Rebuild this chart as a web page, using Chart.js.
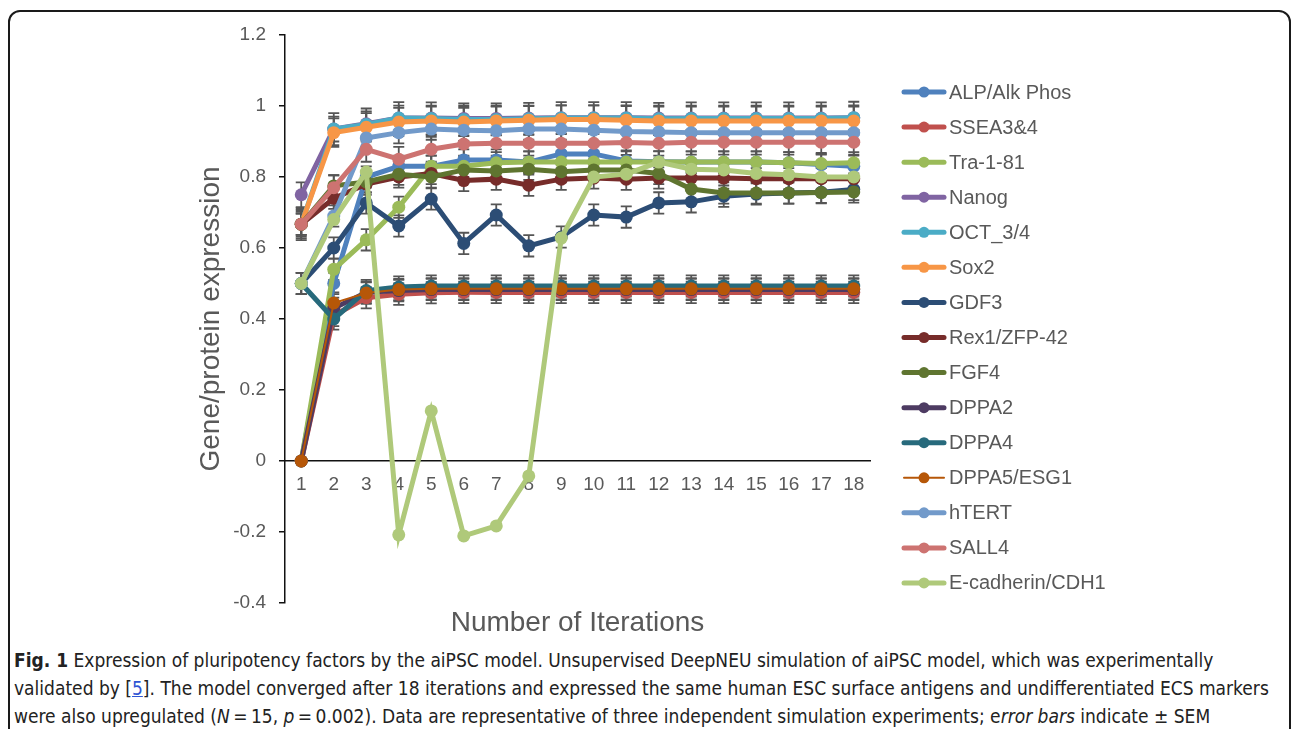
<!DOCTYPE html>
<html>
<head>
<meta charset="utf-8">
<title>Expression of pluripotency factors</title>
<script src="https://cdn.jsdelivr.net/npm/chart.js@4.4.1/dist/chart.umd.min.js"></script>
<style>
  html, body { margin: 0; padding: 0; background: #fff; }
  body { width: 1292px; height: 729px; position: relative; overflow: hidden; }
  #box {
    position: absolute; left: 8px; top: 10px; width: 1279px; height: 760px;
    border: 2px solid #1a1a1a; border-radius: 12px;
  }
  #chart { position: absolute; left: 0; top: 0; }
  #caption {
    position: absolute; left: 14px; top: 646px; width: 1270px;
    font-family: "Liberation Sans Narrow", "DejaVu Sans Condensed", sans-serif;
    font-size: 19px; line-height: 28px; color: #222; white-space: nowrap;
  }
  #caption a { color: #2f55d4; text-decoration: underline; }
</style>
</head>
<body>
<div id="box"></div>
<canvas id="chart" width="1292" height="642"></canvas>
<div id="caption">
  <div><b>Fig. 1</b> Expression of pluripotency factors by the aiPSC model. Unsupervised DeepNEU simulation of aiPSC model, which was experimentally</div>
  <div>validated by [<a>5</a>]. The model converged after 18 iterations and expressed the same human ESC surface antigens and undifferentiated ECS markers</div>
  <div>were also upregulated (<i>N</i>&#8201;=&#8201;15, <i>p</i>&#8201;=&#8201;0.002). Data are representative of three independent simulation experiments; e<i>rror bars</i> indicate ± SEM</div>
</div>
<script>
// iterations on the x axis
const iterations = ["1","2","3","4","5","6","7","8","9","10","11","12","13","14","15","16","17","18"];

// one array per marker
const alp     = [0, 0.50, 0.80, 0.83, 0.83, 0.848, 0.848, 0.842, 0.865, 0.865, 0.845, 0.843, 0.842, 0.842, 0.842, 0.84, 0.835, 0.83];
const ssea    = [0, 0.41, 0.46, 0.47, 0.474, 0.475, 0.475, 0.475, 0.475, 0.475, 0.475, 0.475, 0.475, 0.475, 0.475, 0.475, 0.475, 0.475];
const tra181  = [0, 0.54, 0.623, 0.715, 0.83, 0.83, 0.84, 0.842, 0.842, 0.842, 0.842, 0.842, 0.842, 0.842, 0.842, 0.84, 0.838, 0.84];
const nanog   = [0.75, 0.935, 0.95, 0.966, 0.966, 0.965, 0.965, 0.966, 0.967, 0.967, 0.967, 0.966, 0.966, 0.966, 0.966, 0.966, 0.966, 0.967];
const oct34   = [0.667, 0.935, 0.948, 0.966, 0.965, 0.962, 0.962, 0.964, 0.966, 0.966, 0.966, 0.964, 0.965, 0.965, 0.965, 0.965, 0.965, 0.967];
const sox2    = [0.667, 0.925, 0.94, 0.955, 0.958, 0.955, 0.958, 0.96, 0.962, 0.962, 0.96, 0.958, 0.958, 0.958, 0.958, 0.958, 0.958, 0.958];
const gdf3    = [0.5, 0.60, 0.727, 0.662, 0.738, 0.613, 0.693, 0.606, 0.631, 0.693, 0.687, 0.727, 0.73, 0.746, 0.752, 0.755, 0.757, 0.765];
const rex1    = [0.667, 0.74, 0.78, 0.80, 0.81, 0.79, 0.794, 0.777, 0.794, 0.797, 0.794, 0.797, 0.797, 0.797, 0.795, 0.795, 0.795, 0.795];
const fgf4    = [0.667, 0.775, 0.786, 0.808, 0.80, 0.82, 0.817, 0.822, 0.815, 0.82, 0.82, 0.81, 0.766, 0.755, 0.755, 0.755, 0.756, 0.758];
const dppa2   = [0, 0.43, 0.475, 0.48, 0.483, 0.483, 0.483, 0.483, 0.483, 0.483, 0.483, 0.483, 0.483, 0.483, 0.483, 0.483, 0.483, 0.483];
const dppa4   = [0.5, 0.40, 0.48, 0.49, 0.493, 0.493, 0.493, 0.493, 0.493, 0.493, 0.493, 0.493, 0.493, 0.493, 0.493, 0.493, 0.493, 0.493];
const dppa5   = [0, 0.445, 0.473, 0.483, 0.485, 0.485, 0.485, 0.485, 0.485, 0.485, 0.485, 0.485, 0.485, 0.485, 0.485, 0.485, 0.485, 0.485];
const htert   = [0.5, 0.69, 0.91, 0.925, 0.935, 0.932, 0.93, 0.935, 0.935, 0.932, 0.928, 0.927, 0.925, 0.925, 0.925, 0.925, 0.925, 0.925];
const sall4   = [0.667, 0.77, 0.878, 0.85, 0.878, 0.893, 0.895, 0.895, 0.895, 0.895, 0.897, 0.895, 0.898, 0.898, 0.898, 0.898, 0.898, 0.898];
const ecad    = [0.5, 0.68, 0.814, -0.208, 0.141, -0.211, -0.183, -0.042, 0.628, 0.80, 0.808, 0.842, 0.822, 0.82, 0.81, 0.806, 0.80, 0.80];

const seriesNames = ["ALP/Alk Phos", "SSEA3&4", "Tra-1-81", "Nanog", "OCT_3/4", "Sox2", "GDF3", "Rex1/ZFP-42",
  "FGF4", "DPPA2", "DPPA4", "DPPA5/ESG1", "hTERT", "SALL4", "E-cadherin/CDH1"];
const seriesValues = [alp, ssea, tra181, nanog, oct34, sox2, gdf3, rex1, fgf4, dppa2, dppa4, dppa5, htert, sall4, ecad];
// approximate SEM per marker (error bar half length)
const seriesSem = [0.03, 0.03, 0.03, 0.035, 0.045, 0.04, 0.03, 0.03, 0.03, 0.03, 0.03, 0.03, 0.03, 0.035, 0];
const seriesColors = ["#4f81bd", "#c0504d", "#9bbb59", "#8064a2", "#4bacc6", "#f79646", "#2c4d75", "#772c2a",
  "#5f7530", "#4d3b62", "#276a7c", "#b65708", "#729aca", "#cd7371", "#afc97a"];

const datasets = seriesNames.map((name, i) => ({
    label: name,
    data: seriesValues[i],
    sem: seriesSem[i],
    borderColor: seriesColors[i],
    backgroundColor: seriesColors[i],
    borderWidth: i === 11 ? 2 : 5,
    pointRadius: 6.5,
    pointHoverRadius: 6.5,
    pointBorderWidth: 0,
    tension: 0,
    order: seriesNames.length - i   // later series on top, like the original
}));

// error bars (drawn under the lines)
const errorBars = {
    id: 'errorBars',
    beforeDatasetsDraw(chart) {
        const ctx = chart.ctx;
        const y = chart.scales.y;
        ctx.save();
        ctx.strokeStyle = '#555';
        ctx.lineWidth = 1.8;
        chart.data.datasets.forEach((ds, i) => {
            if (!ds.sem) return;
            chart.getDatasetMeta(i).data.forEach((pt, j) => {
                const v = ds.data[j];
                if (v === 0) return;
                const top = y.getPixelForValue(v + ds.sem);
                const bot = y.getPixelForValue(v - ds.sem);
                ctx.beginPath();
                ctx.moveTo(pt.x, top); ctx.lineTo(pt.x, bot);
                ctx.moveTo(pt.x - 5.5, top); ctx.lineTo(pt.x + 5.5, top);
                ctx.moveTo(pt.x - 5.5, bot); ctx.lineTo(pt.x + 5.5, bot);
                ctx.stroke();
            });
        });
        ctx.restore();
    }
};

// legend on the right: line with a marker, then the name
const sideLegend = {
    id: 'sideLegend',
    afterDraw(chart) {
        const ctx = chart.ctx;
        ctx.save();
        ctx.font = '20px "Liberation Sans", Arial, sans-serif';
        ctx.textBaseline = 'middle';
        chart.data.datasets.forEach((ds, i) => {
            const yy = 92 + i * 35.07;
            ctx.strokeStyle = ds.borderColor;
            ctx.lineWidth = ds.borderWidth;
            ctx.lineCap = 'round';
            ctx.beginPath();
            ctx.moveTo(904, yy); ctx.lineTo(944, yy);
            ctx.stroke();
            ctx.fillStyle = ds.borderColor;
            ctx.beginPath();
            ctx.arc(924, yy, 5.5, 0, Math.PI * 2);
            ctx.fill();
            ctx.fillStyle = '#595959';
            ctx.fillText(ds.label, 949, yy + 1);
        });
        ctx.restore();
    }
};

Chart.defaults.font.family = '"Liberation Sans", Arial, sans-serif';

new Chart(document.getElementById('chart'), {
    type: 'line',
    data: { labels: iterations, datasets: datasets },
    options: {
        responsive: false,
        animation: false,
        layout: { padding: { left: 190, right: 422, top: 35, bottom: 0 } },
        plugins: {
            legend: { display: false },
            tooltip: { enabled: false }
        },
        scales: {
            x: {
                type: 'category',
                offset: true,
                position: { y: 0 },
                grid: { display: false, drawTicks: false },
                border: { display: true, color: '#111', width: 1.5 },
                ticks: { color: '#595959', font: { size: 19 }, padding: 12, autoSkip: false, maxRotation: 0 }
            },
            x2: {
                type: 'category',
                labels: iterations,
                offset: true,
                position: 'bottom',
                grid: { display: false },
                border: { display: false },
                ticks: { display: false },
                title: { display: true, text: 'Number of Iterations', color: '#595959', font: { size: 28 }, padding: { top: 0, bottom: 2 } },
                afterFit(scale) { scale.height = 39; }
            },
            y: {
                min: -0.4,
                max: 1.2,
                grid: { display: true, drawOnChartArea: false, drawTicks: true, tickLength: 6, color: '#111', lineWidth: 1.5 },
                border: { display: true, color: '#111', width: 1.5 },
                ticks: {
                    stepSize: 0.2,
                    color: '#595959',
                    font: { size: 19 },
                    padding: 13,
                    callback: v => String(Math.round(v * 10) / 10)
                },
                title: { display: true, text: 'Gene/protein expression', color: '#595959', font: { size: 28 }, padding: { top: 4, bottom: 0 } },
                afterFit(scale) { scale.width = 95; }
            }
        }
    },
    plugins: [errorBars, sideLegend]
});
</script>
</body>
</html>
